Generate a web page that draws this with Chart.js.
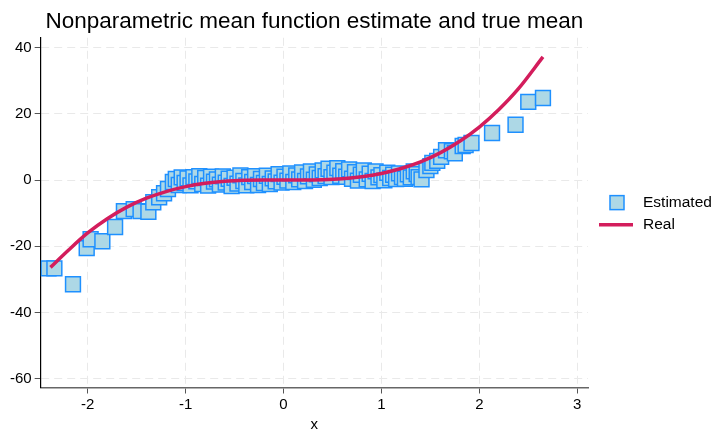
<!DOCTYPE html>
<html>
<head>
<meta charset="utf-8">
<script src="https://cdn.jsdelivr.net/npm/chart.js@4.4.1/dist/chart.umd.min.js"></script>
<style>
  body { margin: 0; background: #fff; }
  #wrap { width: 715px; height: 429px; }
</style>
</head>
<body>
<div id="wrap"><canvas id="chart1"></canvas></div>
<script>
// estimated (nonparametric) mean at sample points
const estX = [-2.40, -2.34, -2.15, -2.01, -1.97, -1.85, -1.72, -1.63, -1.53, -1.46, -1.38, -1.33, -1.27, -1.22, -1.18, -1.13,
    -1.10, -1.07, -1.04, -1.01, -0.98, -0.95, -0.92, -0.89, -0.86, -0.83, -0.80, -0.77, -0.74, -0.71, -0.68, -0.65,
    -0.62, -0.59, -0.56, -0.53, -0.50, -0.47, -0.44, -0.41, -0.38, -0.35, -0.32, -0.29, -0.26, -0.23, -0.20, -0.17,
    -0.14, -0.11, -0.08, -0.05, -0.02, 0.01, 0.04, 0.07, 0.10, 0.13, 0.16, 0.19, 0.22, 0.25, 0.28, 0.31,
    0.34, 0.37, 0.40, 0.43, 0.46, 0.49, 0.52, 0.55, 0.58, 0.61, 0.64, 0.67, 0.70, 0.73, 0.76, 0.79,
    0.82, 0.85, 0.88, 0.91, 0.94, 0.97, 1.00, 1.03, 1.06, 1.09, 1.12, 1.15, 1.18, 1.21, 1.24, 1.27,
    1.30, 1.33, 1.36, 1.38, 1.41, 1.46, 1.50, 1.52, 1.57, 1.61, 1.66, 1.72, 1.75, 1.83, 1.86, 1.92,
    2.13, 2.37, 2.50, 2.65]
const estY = [-26.7, -26.7, -31.5, -20.6, -17.9, -18.5, -14.2, -9.4, -8.8, -9.4, -9.6, -6.7, -5.2, -4.0, -2.7, -0.6,
    0.3, -1.5, 0.8, -0.9, 0.5, -1.6, 0.9, -0.4, 1.2, -1.2, 0.6, -1.7, 1.0, -0.5, 0.2, -1.4,
    1.1, -0.8, 0.4, -1.8, 0.7, -1.1, 1.4, -0.3, -1.6, 0.9, -0.6, 1.2, -1.5, 0.3, -0.9, 1.3,
    -1.2, 0.5, -0.4, 1.8, -0.8, 1.0, -0.2, 2.0, -0.6, 1.4, 0.2, 2.3, -0.3, 1.1, 2.6, 0.1,
    1.7, 0.6, 2.9, 1.2, 3.4, 0.9, 2.2, 3.6, 1.3, 2.7, 1.0, 3.2, 0.4, 2.4, -0.2, 1.6,
    2.9, 0.2, 1.9, -0.3, 2.6, 0.8, 1.5, -0.1, 2.2, 0.6, 1.6, 0.3, 2.0, 0.9, 0.4, 1.7,
    0.8, 2.6, 1.8, 0.9, 0.2, 3.0, 4.2, 5.2, 5.8, 7.0, 9.0, 8.7, 8.1, 10.3, 10.6, 11.2,
    14.2, 16.7, 23.6, 24.8]

// true mean
const realX = [-2.38, -2.2, -2.0, -1.8, -1.6, -1.4, -1.2, -1.0, -0.8, -0.6, -0.4, -0.2, 0,
    0.2, 0.4, 0.6, 0.8, 1.0, 1.2, 1.4, 1.6, 1.8, 2.0, 2.2, 2.4, 2.65]
const realY = [-26.4, -21.3, -16.0, -11.7, -8.2, -5.5, -3.5, -2.0, -1.0, -0.4, -0.1, 0, 0,
    0, 0.1, 0.4, 1.0, 2.0, 3.5, 5.5, 8.2, 11.7, 16.0, 21.3, 27.6, 37.2]

const xTicks = [-2, -1, 0, 1, 2, 3]
const yTicks = [-60, -40, -20, 0, 20, 40]
const legendNames = ['Estimated', 'Real']

const markFill = '#add8e6'
const markEdge = '#1e90ff'
const lineCol = '#d31d5c'
const gridCol = '#e9e9e9'
const fontFam = '"Liberation Sans", Arial, Helvetica, sans-serif'

let estData = []
estX.forEach((x, i) => {
    estData.push({ x: x, y: estY[i] })
})
let realData = []
realX.forEach((x, i) => {
    realData.push({ x: x, y: realY[i] })
})

// legend drawn beside the plot, Stata style
const sideLegend = {
    id: 'sideLegend',
    afterDraw(chart) {
        const ctx = chart.ctx
        const a = chart.chartArea
        const cy = (a.top + a.bottom) / 2
        const lx = a.right + 29
        ctx.save()
        // square marker
        ctx.fillStyle = markFill
        ctx.strokeStyle = markEdge
        ctx.lineWidth = 1.5
        ctx.fillRect(lx - 7, cy - 17, 14, 14)
        ctx.strokeRect(lx - 7, cy - 17, 14, 14)
        // line
        ctx.strokeStyle = lineCol
        ctx.lineWidth = 3.5
        ctx.beginPath()
        ctx.moveTo(lx - 18, cy + 12)
        ctx.lineTo(lx + 16, cy + 12)
        ctx.stroke()
        ctx.fillStyle = '#000'
        ctx.font = '15.5px ' + fontFam
        ctx.textBaseline = 'middle'
        ctx.fillText(legendNames[0], lx + 26, cy - 10)
        ctx.fillText(legendNames[1], lx + 26, cy + 12)
        ctx.restore()
    }
}

const ctx1 = document.getElementById('chart1').getContext('2d')
new Chart(ctx1, {
    type: 'scatter',
    data: {
        datasets: [
            {
                label: legendNames[1],
                type: 'line',
                data: realData,
                borderColor: lineCol,
                borderWidth: 3.5,
                pointRadius: 0,
                fill: false,
                cubicInterpolationMode: 'monotone',
                order: 0
            },
            {
                label: legendNames[0],
                data: estData,
                pointStyle: 'rect',
                pointRadius: 10.5,
                backgroundColor: markFill,
                borderColor: markEdge,
                borderWidth: 1.5,
                order: 1
            }
        ]
    },
    options: {
        responsive: true,
        maintainAspectRatio: false,
        animation: false,
        layout: { padding: { left: 7, right: 127, top: 9, bottom: -3 } },
        plugins: {
            legend: { display: false },
            tooltip: { enabled: false },
            title: {
                display: true,
                fullSize: false,
                text: 'Nonparametric mean function estimate and true mean',
                color: '#000',
                font: { family: fontFam, size: 22.5, weight: 'normal', lineHeight: 1.1 },
                padding: { top: 0, bottom: 4 }
            }
        },
        scales: {
            x: {
                type: 'linear',
                min: -2.48,
                max: 3.11,
                afterBuildTicks: (s) => { s.ticks = xTicks.map(v => ({ value: v })) },
                grid: { color: gridCol, tickColor: '#555', tickLength: 6, tickBorderDash: [] },
                border: { color: '#666', width: 1.5, dash: [8, 5] },
                ticks: { color: '#000', font: { family: fontFam, size: 15, lineHeight: 1.1 }, padding: 3, maxRotation: 0 },
                title: { display: true, text: 'x', color: '#000', font: { family: fontFam, size: 15, lineHeight: 1 }, padding: { top: 1, bottom: 0 } }
            },
            y: {
                type: 'linear',
                min: -62.7,
                max: 43,
                afterBuildTicks: (s) => { s.ticks = yTicks.map(v => ({ value: v })) },
                grid: { color: gridCol, tickColor: '#555', tickLength: 6, tickBorderDash: [] },
                border: { color: '#000', width: 1.2, dash: [8, 5] },
                ticks: { color: '#000', font: { family: fontFam, size: 15 }, padding: 3 }
            }
        }
    },
    plugins: [sideLegend]
})
</script>
</body>
</html>
